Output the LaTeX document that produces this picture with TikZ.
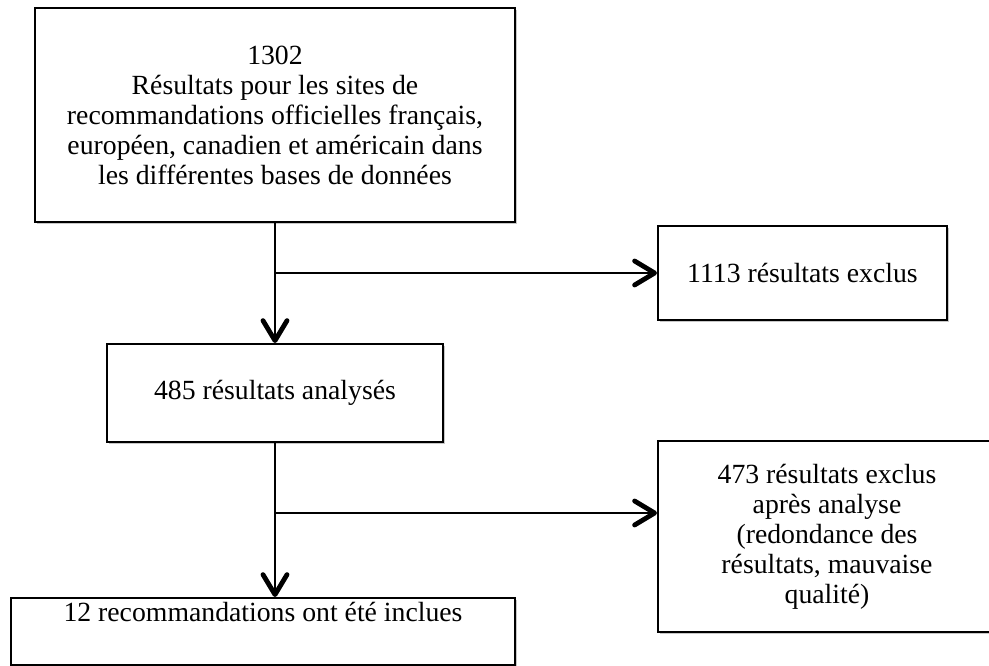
\documentclass[tikz,border=0pt]{standalone}
\usepackage{fontspec}
\setmainfont{Liberation Serif}
\usetikzlibrary{positioning,arrows.meta,shadows}
\tikzset{
  box/.style={draw, line width=1.5pt, fill=white, align=center, inner sep=2pt,
    font=\fontsize{20.8}{22.5}\selectfont,
    drop shadow={shadow xshift=1.5pt, shadow yshift=-1.8pt, opacity=0.22, fill=black}},
  arr/.style={line width=2.2pt, -{Straight Barb[length=15pt, width=18pt, line width=3.6pt, round]}},
  lin/.style={line width=2.2pt}}

\begin{document}
\begin{tikzpicture}[x=0.75pt, y=-0.75pt]
\useasboundingbox (0,0) rectangle (989,666);
% boxes
\node[box, minimum width=360pt, minimum height=160.5pt] (res) at (275,115)
  {1302\\Résultats pour les sites de\\recommandations officielles français,\\européen, canadien et américain dans\\les différentes bases de données};
\node[box, minimum width=216.75pt, minimum height=70.5pt] (excl) at (802.5,273) {1113 résultats exclus};
\node[box, minimum width=252pt, minimum height=73.5pt] (ana) at (275,393) {485 résultats analysés};
\node[box, minimum width=253.5pt, minimum height=143.25pt] (excl2) at (827,536.5)
  {473 résultats exclus\\après analyse\\(redondance des\\résultats, mauvaise\\qualité)};
\node[box, minimum width=378pt, minimum height=50.25pt] (incl) at (263,631.5)
  {12 recommandations ont été inclues\\ \strut};
% connectors
\coordinate (j1) at (275,273);
\coordinate (j2) at (275,513);
\draw[arr] (res.south) -- (ana.north);
\draw[arr] (j1) -- (excl.west);
\draw[arr] (ana.south) -- (ana.south |- incl.north);
\draw[arr] (j2) -- (j2 -| excl2.west);
\end{tikzpicture}
\end{document}
